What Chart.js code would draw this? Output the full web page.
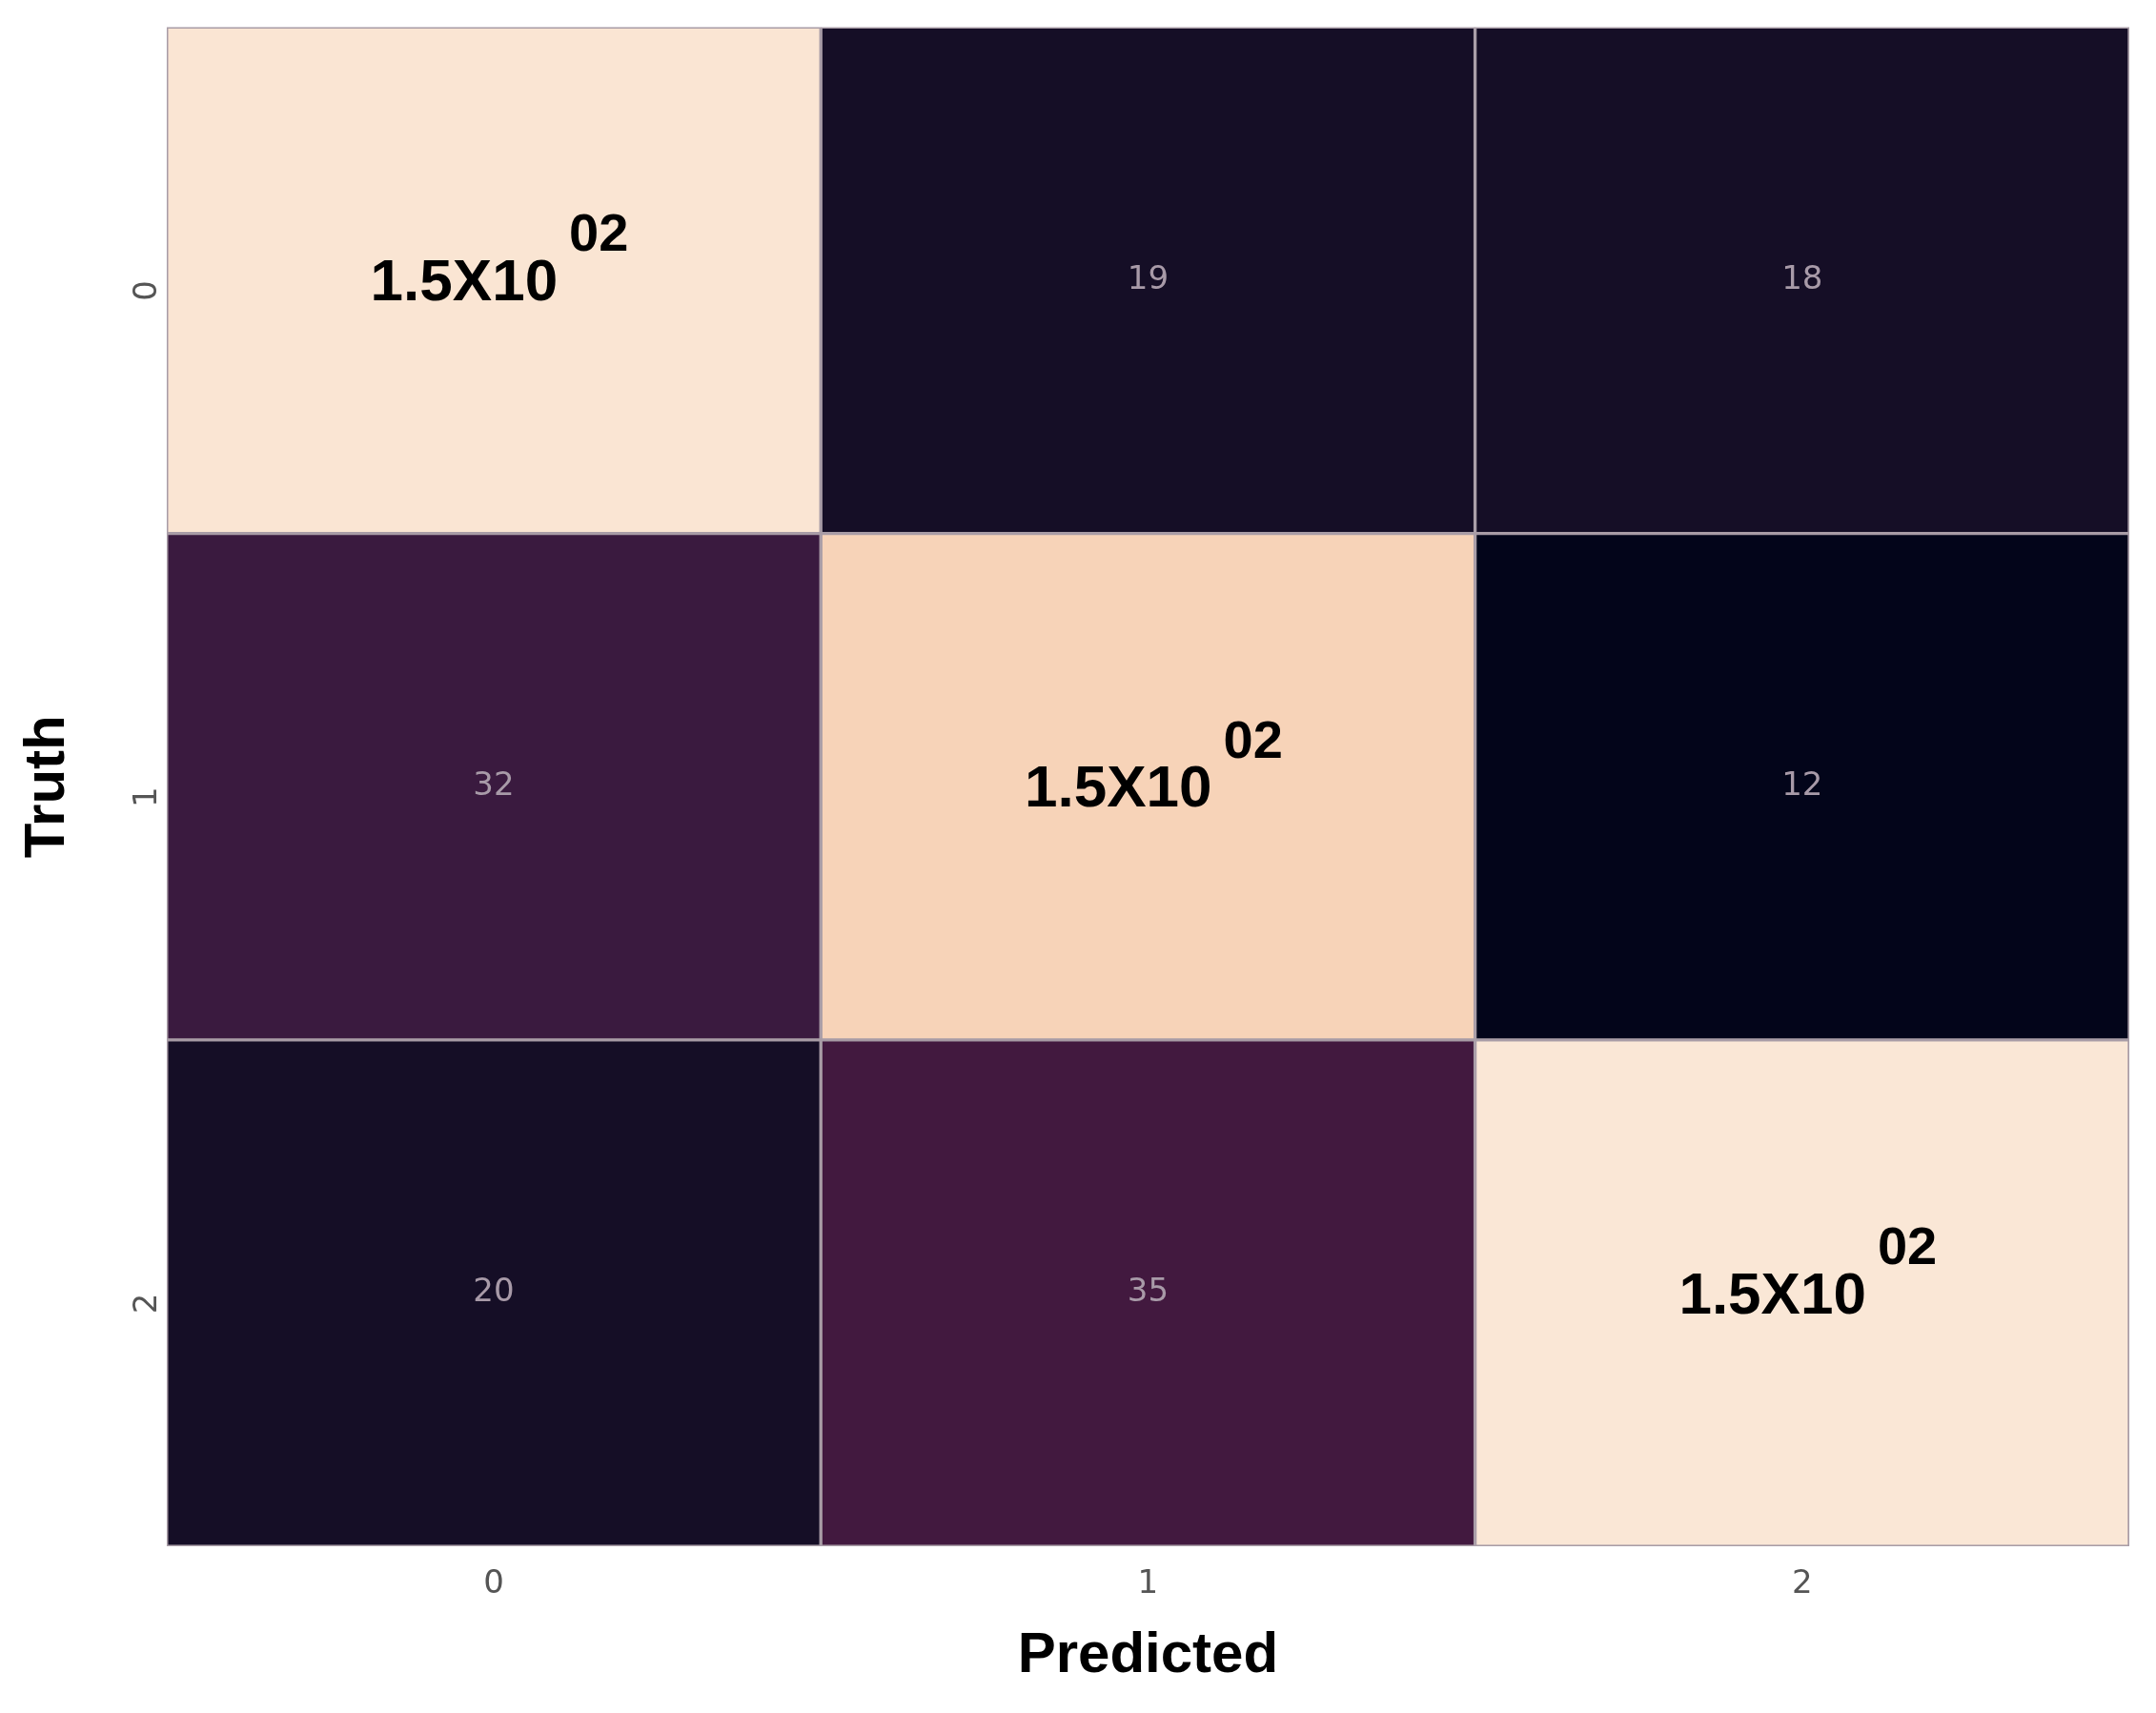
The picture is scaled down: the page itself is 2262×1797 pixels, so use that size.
<!DOCTYPE html>
<html><head><meta charset="utf-8">
<script src="https://cdn.jsdelivr.net/npm/chart.js@4"></script>
<style>html,body{margin:0;background:#fff}#w{width:2262px;height:1797px}</style>
</head><body><div id="w"><canvas id="c"></canvas></div>
<script>
const categories = ['0','1','2'];
const rowLabels = ['0','1','2'];
const values = [[150,19,18],[32,150,12],[20,35,150]];
const cellLabels = [['1.5X10|02','19','18'],['32','1.5X10|02','12'],['20','35','1.5X10|02']];
const cellColors = [['#fae5d3','#150e26','#150e26'],['#3a1a3f','#f7d3b8','#03051a'],['#150e26','#42193f','#fae7d6']];

const datasets = rowLabels.map((r,i)=>({
  label:'row '+r,
  data: categories.map((c,j)=>[i-0.5,i+0.5]),
  backgroundColor: cellColors[i],
  borderColor:'#a89ca6', borderWidth:2, borderSkipped:false,
  barPercentage:1, categoryPercentage:1
}));

const labelPlugin = {id:'lbl', afterDatasetsDraw(chart){
  const ctx=chart.ctx, xs=chart.scales.x, ys=chart.scales.y;
  for(let i=0;i<3;i++)for(let j=0;j<3;j++){
    const x=xs.getPixelForValue(j), y=ys.getPixelForValue(i), t=cellLabels[i][j];
    ctx.save(); ctx.textBaseline='middle';
    if(t.includes('|')){
      const [a,b]=t.split('|');
      ctx.font='bold 62px "Liberation Sans", Arial'; ctx.fillStyle='#000';
      const wa=ctx.measureText(a).width;
      ctx.font='bold 56px "Liberation Sans", Arial'; const wb=ctx.measureText(b).width;
      const x0=x-(wa+wb)/2;
      ctx.textAlign='left';
      ctx.font='bold 62px "Liberation Sans", Arial'; ctx.fillText(a,x0,y+4);
      ctx.font='bold 56px "Liberation Sans", Arial'; ctx.fillText(b,x0+wa+12,y-46);
    } else {
      ctx.font='34px "DejaVu Sans"'; ctx.fillStyle='#a89aa8'; ctx.textAlign='center';
      ctx.fillText(t,x,y);
    }
    ctx.restore();
  }
}};

new Chart(document.getElementById('c'),{
  type:'bar',
  data:{labels:categories,datasets},
  options:{
    responsive:true, maintainAspectRatio:false, animation:false,
    layout:{padding:{top:22,right:28,left:10,bottom:20}},
    plugins:{legend:{display:false},tooltip:{enabled:false}},
    scales:{
      x:{stacked:true, grid:{display:false,drawTicks:true,tickLength:12,tickColor:'#999'}, border:{display:false},
        ticks:{color:'#555',font:{size:34,family:'DejaVu Sans'},padding:8},
        title:{display:true,text:'Predicted',color:'#000',font:{size:60,weight:'bold',family:'"Liberation Sans", Arial'},padding:{top:10}}},
      y:{type:'linear',min:-0.5,max:2.5,reverse:true,
        afterBuildTicks(s){s.ticks=[0,1,2].map(v=>({value:v}));},
        grid:{display:false,drawTicks:true,tickLength:12,tickColor:'#999'}, border:{display:false},
        ticks:{color:'#555',font:{size:34,family:'DejaVu Sans'},minRotation:90,maxRotation:90,padding:8,callback:(v)=>rowLabels[v]},
        title:{display:true,text:'Truth',color:'#000',font:{size:60,weight:'bold',family:'"Liberation Sans", Arial'},padding:{bottom:20}}}
    }
  },
  plugins:[labelPlugin]
});
</script></body></html>
